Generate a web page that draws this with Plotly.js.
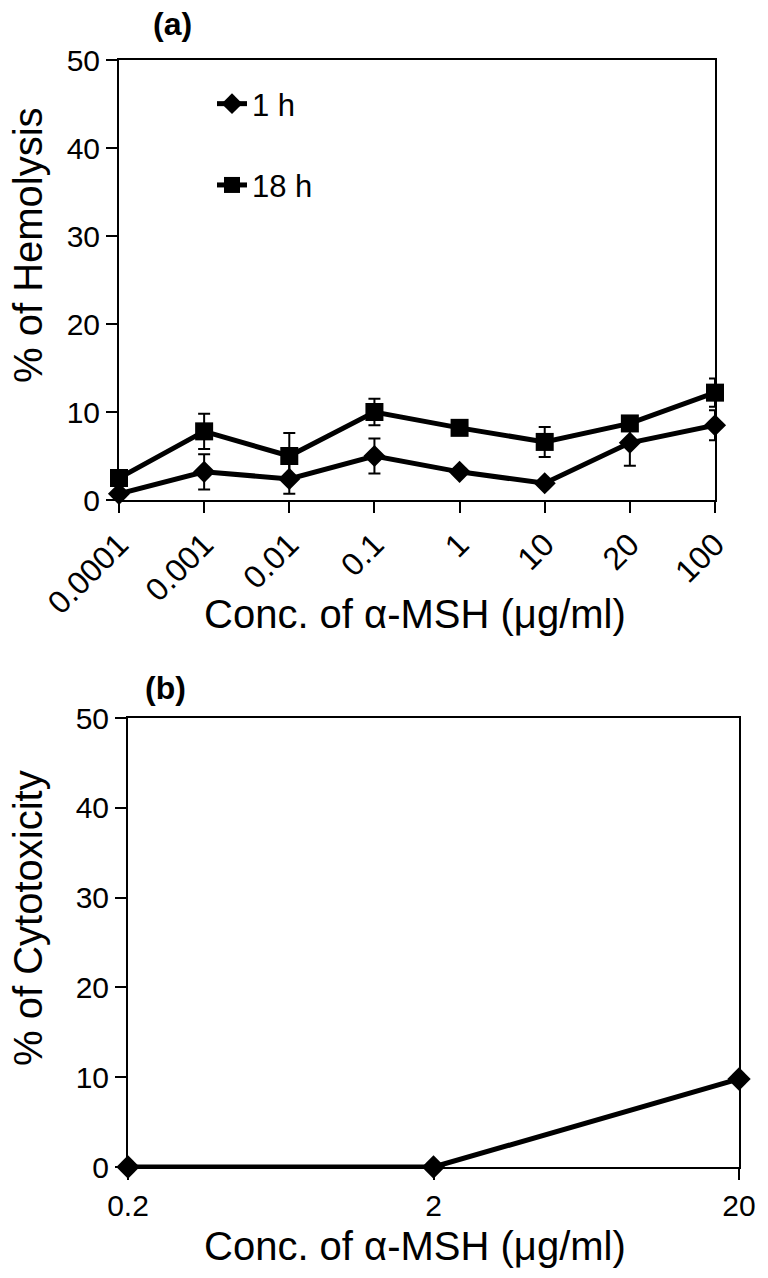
<!DOCTYPE html>
<html>
<head>
<meta charset="utf-8">
<script src="https://cdn.plot.ly/plotly-3.0.1.min.js"></script>
<style>html,body{margin:0;padding:0;background:#fff;}#chart{width:768px;height:1278px;}</style>
</head>
<body>
<div id="chart"></div>
<script>
// Panel (a): hemolysis
var concA = ['0.0001', '0.001', '0.01', '0.1', '1', '10', '20', '100'];
var hemo1h = [0.7, 3.2, 2.4, 5.0, 3.2, 1.9, 6.5, 8.5];
var hemo1hErr = [0.4, 2.0, 1.7, 2.0, 0.4, 0.3, 2.6, 1.7];
var hemo18h = [2.5, 7.8, 5.0, 10.0, 8.2, 6.6, 8.7, 12.2];
var hemo18hErr = [0.5, 2.0, 2.6, 1.5, 0.5, 1.7, 0.5, 1.6];
var seriesNames = ['1 h', '18 h'];

// Panel (b): cytotoxicity
var concB = ['0.2', '2', '20'];
var cyto = [0, 0, 9.8];

var yTicks = [0, 10, 20, 30, 40, 50];
var xTitle = 'Conc. of α-MSH (μg/ml)';
var yTitleA = '% of Hemolysis';
var yTitleB = '% of Cytotoxicity';

var FONT = 'Liberation Sans, Arial, sans-serif';
var W = 768, H = 1278;

function px(x) { return x / W; }
function py(y) { return 1 - y / H; }

var traces = [
  {
    x: concA, y: hemo1h, name: seriesNames[0], type: 'scatter', mode: 'lines+markers',
    xaxis: 'x', yaxis: 'y', legendgroup: 'g1', cliponaxis: false,
    line: {color: '#000', width: 5},
    marker: {symbol: 'diamond', size: 17, color: '#000'},
    error_y: {type: 'data', array: hemo1hErr, visible: true, color: '#000', thickness: 2, width: 6}
  },
  {
    x: concA, y: hemo18h, name: seriesNames[1], type: 'scatter', mode: 'lines+markers',
    xaxis: 'x', yaxis: 'y', legendgroup: 'g2', cliponaxis: false,
    line: {color: '#000', width: 5},
    marker: {symbol: 'square', size: 18, color: '#000'},
    error_y: {type: 'data', array: hemo18hErr, visible: true, color: '#000', thickness: 2, width: 6}
  },
  {
    x: concB, y: cyto, name: 'Cytotoxicity', type: 'scatter', mode: 'lines+markers',
    xaxis: 'x2', yaxis: 'y2', showlegend: false, cliponaxis: false,
    line: {color: '#000', width: 5},
    marker: {symbol: 'diamond', size: 18, color: '#000'}
  }
];

var axisCommon = {
  showline: true, linecolor: '#000', linewidth: 2, mirror: true,
  showgrid: false, zeroline: false, ticks: 'outside', ticklen: 11, tickwidth: 2, tickcolor: '#000',
  tickfont: {family: FONT, size: 30, color: '#000'}, fixedrange: true
};

function merge(a, b) { var o = {}; for (var k in a) o[k] = a[k]; for (var k2 in b) o[k2] = b[k2]; return o; }

function titleAnn(text, x, y, angle) {
  return {text: text, xref: 'paper', yref: 'paper', x: px(x), y: py(y), xanchor: 'center', yanchor: 'middle',
          textangle: angle, showarrow: false, font: {family: FONT, size: 40, color: '#000'}};
}

var layout = {
  width: W, height: H,
  margin: {l: 0, r: 0, t: 0, b: 0},
  paper_bgcolor: '#fff', plot_bgcolor: '#fff',
  font: {family: FONT, color: '#000'},
  showlegend: true,
  legend: {
    x: px(212), y: py(77), xanchor: 'left', yanchor: 'top',
    font: {family: FONT, size: 31, color: '#000'},
    bgcolor: 'rgba(0,0,0,0)', tracegroupgap: 38, traceorder: 'grouped'
  },
  xaxis: merge(axisCommon, {
    domain: [px(119), px(715)], anchor: 'y', type: 'category',
    range: [0, concA.length - 1], tickangle: -45,
    tickfont: {family: FONT, size: 32, color: '#000'}
  }),
  yaxis: merge(axisCommon, {
    domain: [py(500), py(60)], anchor: 'x', range: [0, 50], tickvals: yTicks
  }),
  xaxis2: merge(axisCommon, {
    domain: [px(128), px(739)], anchor: 'y2', type: 'category',
    range: [0, concB.length - 1], tickangle: 0
  }),
  yaxis2: merge(axisCommon, {
    domain: [py(1167), py(718)], anchor: 'x2', range: [0, 50], tickvals: yTicks
  }),
  annotations: [
    {text: '<b>(a)</b>', xref: 'paper', yref: 'paper', x: px(172), y: py(24), xanchor: 'center', yanchor: 'middle',
     showarrow: false, font: {family: FONT, size: 32, color: '#000'}},
    {text: '<b>(b)</b>', xref: 'paper', yref: 'paper', x: px(165), y: py(688), xanchor: 'center', yanchor: 'middle',
     showarrow: false, font: {family: FONT, size: 32, color: '#000'}},
    titleAnn(xTitle, 415, 614, 0),
    titleAnn(yTitleA, 28, 245, -90),
    titleAnn(xTitle, 415, 1246, 0),
    titleAnn(yTitleB, 28, 918, -90)
  ]
};

Plotly.newPlot('chart', traces, layout, {displayModeBar: false, staticPlot: true});
</script>
</body>
</html>
